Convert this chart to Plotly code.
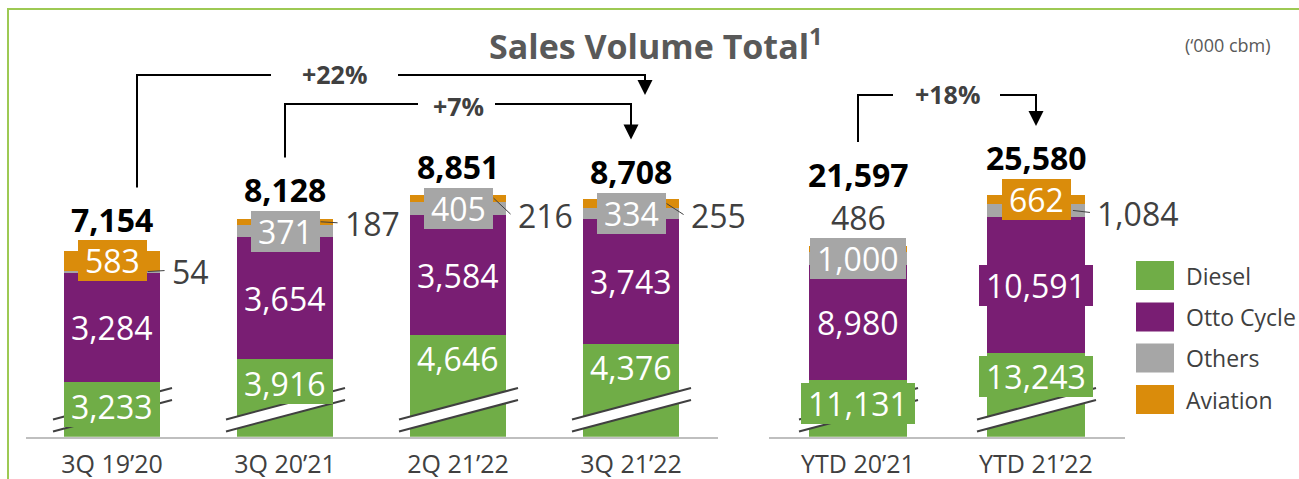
import plotly.graph_objects as go

# ---------------- data ----------------
categories_q = ["3Q 19’20", "3Q 20’21", "2Q 21’22", "3Q 21’22"]
categories_ytd = ["YTD 20’21", "YTD 21’22"]
series_names = ["Diesel", "Otto Cycle", "Others", "Aviation"]
diesel = [3233, 3916, 4646, 4376, 11131, 13243]
otto_cycle = [3284, 3654, 3584, 3743, 8980, 10591]
others = [54, 371, 405, 334, 1000, 1084]
aviation = [583, 187, 216, 255, 486, 662]
growth_labels = ["+22%", "+7%", "+18%"]
title_text = "Sales Volume Total"
unit_text = "(‘000 cbm)"

series = [diesel, otto_cycle, others, aviation]

# ---------------- style / layout ----------------
W, H = 1299, 479
FONT = "Open Sans, Arial, sans-serif"
COLORS = ["#70AD47", "#791E73", "#A6A6A6", "#DA8C0B"]
DARK = "#404040"
PX_TOP, PX_BASE = 9.0, 436.7
BAR_FRAC = 0.55

panels = [
    dict(cats=categories_q, idx=list(range(0, 4)), px0=25.5, px1=717.5,
         vmin=1600, scale=0.0334, xa="x", ya="y"),
    dict(cats=categories_ytd, idx=list(range(4, 6)), px0=769, px1=1125,
         vmin=6700, scale=0.0128, xa="x2", ya="y2"),
]
for p in panels:
    p["vmax"] = p["vmin"] + (PX_BASE - PX_TOP) / p["scale"]
    p["step"] = (p["px1"] - p["px0"]) / len(p["cats"])
    p["half"] = BAR_FRAC * p["step"] / 2

# which series label sits outside the bar, and how
outside_series = [2, 3, 3, 3, 3, 2]
outside_mode = ["right", "right", "right", "right", "top", "right"]
outside_dy = [0, 2, 17, 12, 0, 3]


def vpx(p, v):
    return PX_BASE - (v - p["vmin"]) * p["scale"]


def cpx(p, j):
    return p["px0"] + (j + 0.5) * p["step"]


def X(px):
    return px / W


def Y(py):
    return 1 - py / H


def text_w(s, fs):
    w = 0
    for ch in s:
        w += 0.572 if ch.isdigit() else (0.26 if ch == "," else 0.5)
    return w * fs


fig = go.Figure()
shapes = []
annotations = []

# bars
for p in panels:
    for k, name in enumerate(series_names):
        fig.add_trace(go.Bar(
            x=p["cats"], y=[series[k][i] for i in p["idx"]], name=name,
            marker=dict(color=COLORS[k], line=dict(width=0)),
            xaxis=p["xa"], yaxis=p["ya"], showlegend=False,
            hoverinfo="skip",
        ))

LABEL_FS = 32
total_center_px = {}

for p in panels:
    xref, yref = p["xa"], p["ya"]
    for j, i in enumerate(p["idx"]):
        cat = p["cats"][j]
        total = sum(series[k][i] for k in range(4))
        cum = 0
        box_tops = []
        for k in range(4):
            v = series[k][i]
            lo, hi = cum, cum + v
            cum = hi
            txt = f"{v:,}"
            if k == outside_series[i]:
                mid = (lo + hi) / 2
                if outside_mode[i] == "right":
                    dy = outside_dy[i]
                    annotations.append(dict(
                        x=cat, y=mid, xref=xref, yref=yref, text=txt,
                        showarrow=False, xanchor="left", yanchor="middle",
                        xshift=p["half"] + 10, yshift=-dy,
                        font=dict(family=FONT, size=LABEL_FS, color=DARK)))
                    right = cpx(p, j) + p["half"]
                    shapes.append(dict(
                        type="line", xref="paper", yref="paper",
                        x0=X(right - 12), y0=Y(vpx(p, mid)),
                        x1=X(right + 5), y1=Y(vpx(p, mid) + dy - 1),
                        line=dict(color=DARK, width=1), layer="above"))
                else:
                    annotations.append(dict(
                        x=cat, y=total, xref=xref, yref=yref, text=txt,
                        showarrow=False, xanchor="center", yanchor="middle", yshift=29,
                        font=dict(family=FONT, size=LABEL_FS, color=DARK)))
                    box_tops.append(vpx(p, total) - 29 - 22)
                continue
            if k == 0:
                y, ysh = hi, -24
                cy = vpx(p, hi) + 24
            else:
                y, ysh = (lo + hi) / 2, 0
                cy = vpx(p, y)
            annotations.append(dict(
                x=cat, y=y, xref=xref, yref=yref, text=txt, showarrow=False,
                xanchor="center", yanchor="middle", yshift=ysh,
                width=text_w(txt, LABEL_FS) + 14, height=41,
                bgcolor=COLORS[k], borderpad=0, borderwidth=0,
                font=dict(family=FONT, size=LABEL_FS, color="white")))
            box_tops.append(cy - 20.5)
        tc = min(box_tops) - 21
        total_center_px[i] = tc
        annotations.append(dict(
            x=cat, y=total, xref=xref, yref=yref, text=f"<b>{total:,}</b>",
            showarrow=False, xanchor="center", yanchor="middle",
            yshift=vpx(p, total) - tc,
            font=dict(family=FONT, size=LABEL_FS, color="black")))

        # axis-break marks on the diesel bar
        c = cpx(p, j)
        xl, xr = c - 59, c + 60
        up_l, up_r, gap = 419.5, 388.0, 12.0
        shapes.append(dict(
            type="path", xref="paper", yref="paper", layer="above",
            path=(f"M {X(xl)} {Y(up_l)} L {X(xr)} {Y(up_r)} "
                  f"L {X(xr)} {Y(up_r + gap)} L {X(xl)} {Y(up_l + gap)} Z"),
            fillcolor="white", line=dict(width=0)))
        for g in (0, gap):
            shapes.append(dict(
                type="line", xref="paper", yref="paper", layer="above",
                x0=X(xl), y0=Y(up_l + g), x1=X(xr), y1=Y(up_r + g),
                line=dict(color=DARK, width=2)))

# growth brackets
arrow_specs = [
    dict(p0=0, j0=0, dx0=25, p1=0, j1=3, dx1=14, ytop=75, tip=95,
         gap=(271, 398), tx=334.5, ty=73.5),
    dict(p0=0, j0=1, dx0=0, p1=0, j1=3, dx1=0, ytop=104, tip=139.5,
         gap=(418, 495), tx=458, ty=106),
    dict(p0=1, j0=0, dx0=0, p1=1, j1=1, dx1=0, ytop=95, tip=126,
         gap=(893, 1000), tx=947, ty=94),
]
for lab, a in zip(growth_labels, arrow_specs):
    pa, pb = panels[a["p0"]], panels[a["p1"]]
    xa_ = cpx(pa, a["j0"]) + a["dx0"]
    xb_ = cpx(pb, a["j1"]) + a["dx1"]
    ybot = total_center_px[pa["idx"][a["j0"]]] - 32
    ln = dict(color="black", width=2)
    shapes.append(dict(type="line", xref="paper", yref="paper",
                       x0=X(xa_), y0=Y(ybot), x1=X(xa_), y1=Y(a["ytop"]), line=ln))
    shapes.append(dict(type="line", xref="paper", yref="paper",
                       x0=X(xa_ - 1), y0=Y(a["ytop"]), x1=X(a["gap"][0]), y1=Y(a["ytop"]), line=ln))
    shapes.append(dict(type="line", xref="paper", yref="paper",
                       x0=X(a["gap"][1]), y0=Y(a["ytop"]), x1=X(xb_ + 1), y1=Y(a["ytop"]), line=ln))
    shapes.append(dict(type="line", xref="paper", yref="paper",
                       x0=X(xb_), y0=Y(a["ytop"]), x1=X(xb_), y1=Y(a["tip"] - 14), line=ln))
    shapes.append(dict(type="path", xref="paper", yref="paper",
                       path=(f"M {X(xb_ - 7.5)} {Y(a['tip'] - 15)} L {X(xb_ + 7.5)} {Y(a['tip'] - 15)} "
                             f"L {X(xb_)} {Y(a['tip'])} Z"),
                       fillcolor="black", line=dict(width=0)))
    annotations.append(dict(x=X(a["tx"]), y=Y(a["ty"]), xref="paper", yref="paper",
                            text=f"<b>{lab}</b>", showarrow=False,
                            xanchor="center", yanchor="middle",
                            font=dict(family=FONT, size=25, color=DARK)))

# custom legend
leg_tops = [261, 302.5, 343.5, 385]
for k, name in enumerate(series_names):
    t = leg_tops[k]
    shapes.append(dict(type="rect", xref="paper", yref="paper",
                       x0=X(1136), x1=X(1174), y0=Y(t + 29), y1=Y(t),
                       fillcolor=COLORS[k], line=dict(width=0)))
    annotations.append(dict(x=X(1184), y=Y(t + 14.5), xref="paper", yref="paper",
                            text=name, showarrow=False, xanchor="left", yanchor="middle",
                            font=dict(family=FONT, size=23, color=DARK)))

# frame
frame = "#9DC953"
shapes.append(dict(type="line", xref="paper", yref="paper", x0=X(7), x1=1.0,
                   y0=Y(9), y1=Y(9), line=dict(color=frame, width=2)))
shapes.append(dict(type="line", xref="paper", yref="paper", x0=X(8), x1=X(8),
                   y0=Y(9), y1=0.0, line=dict(color=frame, width=2)))

# title and unit
annotations.append(dict(x=X(656), y=Y(44), xref="paper", yref="paper",
                        text=f"<b>{title_text}<sup>1</sup></b>", showarrow=False,
                        xanchor="center", yanchor="middle",
                        font=dict(family=FONT, size=34, color="#595959")))
annotations.append(dict(x=X(1228), y=Y(45), xref="paper", yref="paper",
                        text=unit_text, showarrow=False,
                        xanchor="center", yanchor="middle",
                        font=dict(family=FONT, size=18, color="#595959")))

ydom = [1 - PX_BASE / H, 1 - PX_TOP / H]
axis_common = dict(showline=True, linecolor="#BFBFBF", linewidth=2, ticks="",
                   showgrid=False, zeroline=False, fixedrange=True,
                   ticklabelstandoff=4,
                   tickfont=dict(family=FONT, size=25, color=DARK))
yax_common = dict(visible=False, showgrid=False, zeroline=False, fixedrange=True)

fig.update_layout(
    width=W, height=H, margin=dict(l=0, r=0, t=0, b=0, autoexpand=False),
    paper_bgcolor="white", plot_bgcolor="white",
    barmode="stack", bargap=1 - BAR_FRAC, showlegend=False,
    font=dict(family=FONT),
    xaxis=dict(domain=[X(panels[0]["px0"]), X(panels[0]["px1"])], anchor="y",
               type="category", range=[-0.5, len(categories_q) - 0.5], **axis_common),
    xaxis2=dict(domain=[X(panels[1]["px0"]), X(panels[1]["px1"])], anchor="y2",
                type="category", range=[-0.5, len(categories_ytd) - 0.5], **axis_common),
    yaxis=dict(domain=ydom, anchor="x", range=[panels[0]["vmin"], panels[0]["vmax"]], **yax_common),
    yaxis2=dict(domain=ydom, anchor="x2", range=[panels[1]["vmin"], panels[1]["vmax"]], **yax_common),
    shapes=shapes, annotations=annotations,
)

fig.write_html(
    "out.html",
    config={"responsive": False, "displayModeBar": False},
    post_script="document.body.style.margin='0px';document.body.style.overflow='hidden';",
)
